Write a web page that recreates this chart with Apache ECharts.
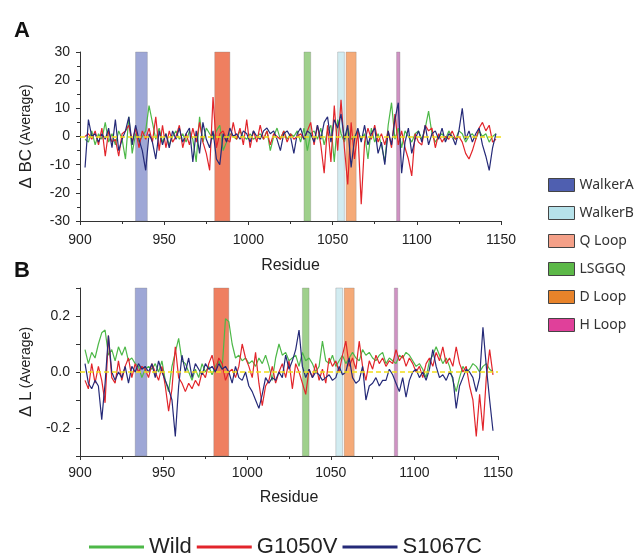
<!DOCTYPE html>
<html>
<head>
<meta charset="utf-8">
<script src="https://cdn.jsdelivr.net/npm/echarts@6/dist/echarts.min.js"></script>
<style>
html,body{margin:0;padding:0;background:#fff;}
#chart{width:638px;height:557px;}
</style>
</head>
<body>
<div id="chart"></div>
<script>
// ---------------- DATA ----------------
// residues sampled every 2 residues from 903 to 1147
const residueStart = 903, residueEnd = 1147, residueStep = 2;

const xTicks = [900, 950, 1000, 1050, 1100, 1150];
const yTicksA = [-30, -20, -10, 0, 10, 20, 30];
const yTicksB = [-0.2, 0.0, 0.2];

const seriesNames = ['Wild', 'G1050V', 'S1067C'];

// Panel A: Δ BC (Average)
const bcWild = [
  -1, -2, 2, -3, 1, -1, 5, -2, 1, -3,
  2, -1, -8, 7, -6, 1, -2, 0, 2, 11,
  5, -1, 3, -2, 1, -3, 0, 2, -1, 1,
  -2, 2, -1, -9, 7, -2, 3, 1, -1, 2,
  4, -5, -2, 1, 0, -1, 2, 0, -1, 1,
  -1, 0, 1, -1, 2, -5, 0, 3, -1, 2,
  -1, 1, 0, 2, -2, 3, -5, 1, 2, -1,
  3, -3, 2, 4, -9, 6, 1, -2, 3, -1,
  0, 2, -1, 1, -8, 3, -2, 1, -3, -9,
  4, 12, -1, 3, -4, 2, 0, -2, 1, 2,
  -1, 3, 9, 1, -2, 0, 1, -1, 2, 0,
  -1, 2, 1, -2, 0, 1, -1, 2, 0, 1,
  -2, 0, 1
];
const bcG1050V = [
  0, 1, -1, 2, -3, 3, -7, 2, -2, -1,
  -7, 1, 2, 4, -2, 3, -4, 2, -1, 3,
  -2, 7, -5, 4, -4, 2, -2, 0, 4, -4,
  1, -3, 3, -2, 5, -2, -6, -12, 14, -4,
  1, 2, -1, -2, 5, -1, 3, -3, 6, -4,
  2, -2, 4, -1, 2, -3, 1, 0, -1, 2,
  -2, 1, -1, 0, 1, -1, 2, 5, -3, 4,
  -3, -13, 4, -9, 11, -5, 13, -4, -17, 5,
  -8, 2, -24, -2, 3, -1, 4, -2, 1, -3,
  2, -4, 8, -3, 2, -4, -8, -14, 1, -2,
  -3, 4, 2, 3, -4, 1, -2, 0, -1, 2,
  -1, 0, -2, -6, -8, -5, -1, 3, 5, 2,
  4, -2, -1
];
const bcS1067C = [
  -11, 6, 0, 1, -2, 1, -1, 3, -4, 6,
  -5, -1, 2, 7, -3, 4, -1, -5, -12, 1,
  -2, -8, 2, -3, 1, -4, 2, -1, 3, -2,
  1, 3, -9, 2, -6, 5, -1, -4, 2, -8,
  -10, 1, -2, 3, 0, 1, -1, 2, 1, -2,
  2, 0, -1, 2, 3, 1, 2, -1, -5, 1,
  2, 0, -6, 1, 3, -1, 2, 1, -2, 4,
  -1, 5, 7, -2, 6, 3, 8, -1, 4, -11,
  -1, 3, -2, 4, -3, 1, 3, -6, -2, -10,
  2, -3, 6, 12, -13, -2, 3, -6, -1, 2,
  -2, 4, -3, 1, 2, -1, 3, -2, 1, 0,
  -3, 2, 10, -1, 2, -2, 1, 3, -3, -7,
  -12, -4, 1
];

// Panel B: Δ L (Average)
const lWild = [
  0.08, 0.03, 0.07, 0.05, 0.10, 0.14, 0.15, 0.06, 0.08, 0.04,
  0.09, 0.06, 0.09, 0.04, 0.05, 0.03, 0.02, -0.02, 0.01, 0.02,
  0.01, 0.03, 0.00, 0.04, -0.03, -0.07, 0.02, 0.07, 0.12, 0.04,
  0.03, 0.00, -0.03, 0.01, -0.02, 0.03, 0.00, 0.02, -0.01, 0.02,
  0.04, 0.01, 0.19, 0.18, 0.10, 0.05, 0.06, 0.04, 0.05, 0.03,
  0.04, 0.02, 0.05, 0.03, 0.06, 0.02, -0.03, 0.05, 0.10, 0.06,
  0.07, 0.04, 0.05, 0.06, 0.02, 0.07, 0.04, 0.05, 0.03, 0.00,
  0.02, 0.11, 0.04, 0.03, 0.06, 0.02, 0.04, 0.06, 0.03, 0.05,
  0.07, 0.05, 0.04, 0.08, 0.06, 0.07, 0.05, 0.04, 0.06, 0.07,
  0.03, 0.05, 0.04, 0.03, 0.06, 0.05, 0.07, 0.06, 0.04, 0.02,
  0.03, 0.01, -0.02, 0.04, 0.06, 0.09, 0.06, 0.03, 0.05, 0.02,
  -0.03, -0.07, -0.02, 0.02, 0.00, 0.01, 0.03, 0.02, 0.00, 0.02,
  0.03, 0.01, 0.00
];
const lG1050V = [
  -0.03, -0.06, 0.03, -0.04, 0.02, -0.03, -0.11, 0.13, -0.02, -0.04,
  0.04, -0.03, 0.02, 0.05, -0.02, 0.03, 0.00, 0.02, 0.01, -0.02,
  0.03, 0.00, -0.03, 0.02, -0.05, -0.14, -0.06, 0.09, -0.02, -0.04,
  -0.07, -0.04, -0.06, -0.03, -0.05, 0.00, -0.02, 0.03, 0.06, 0.00,
  0.05, 0.03, -0.03, 0.00, 0.01, -0.02, 0.02, 0.10, 0.05, 0.02,
  -0.02, 0.07, -0.04, -0.12, -0.05, -0.03, 0.02, -0.04, 0.00, 0.03,
  -0.02, 0.04, -0.06, 0.03, 0.00, -0.04, -0.08, 0.01, -0.02, 0.03,
  -0.03, 0.01, -0.04, 0.05, 0.02, 0.04, 0.00, 0.06, 0.11, 0.02,
  0.05, 0.01, 0.11, 0.02, -0.03, 0.04, 0.01, 0.06, 0.03, 0.05,
  0.02, 0.04, 0.03, 0.08, 0.04, 0.06, 0.02, 0.05, 0.03, 0.00,
  0.02, -0.02, 0.03, 0.05, 0.02, 0.07, 0.04, 0.09, 0.03, 0.05,
  0.02, 0.09, 0.03, 0.00, 0.02, -0.05, -0.10, -0.23, -0.08, -0.21,
  -0.02, 0.08, -0.01
];
const lS1067C = [
  0.03, -0.04, -0.06, -0.03, -0.05, -0.17, -0.04, 0.13, 0.00, -0.03,
  0.00, -0.02, 0.02, -0.04, 0.02, 0.00, 0.03, 0.01, 0.02, 0.00,
  0.03, -0.02, 0.04, 0.00, -0.03, -0.06, -0.10, -0.23, -0.05, 0.06,
  0.00, 0.05, -0.02, 0.03, 0.01, -0.01, 0.03, 0.01, 0.02, 0.00,
  0.03, 0.01, 0.02, 0.00, -0.04, 0.02, -0.02, -0.03, 0.00, -0.05,
  -0.07, -0.10, -0.13, -0.08, -0.02, -0.04, -0.02, -0.03, 0.00, -0.02,
  0.06, 0.01, 0.04, 0.08, 0.15, 0.02, -0.02, 0.01, -0.02, 0.00,
  -0.01, -0.03, -0.02, -0.01, -0.03, -0.02, 0.02, -0.01, 0.00, 0.05,
  -0.02, -0.04, -0.03, 0.02, -0.10, -0.05, -0.04, -0.02, -0.05, -0.03,
  -0.03, 0.01, -0.01, -0.04, -0.07, -0.02, -0.09, -0.03, 0.00, 0.01,
  -0.02, 0.00, -0.03, 0.01, 0.08, 0.02, -0.02, -0.01, -0.03, 0.00,
  -0.02, -0.13, -0.05, -0.02, 0.01, 0.00, -0.02, -0.07, -0.02, 0.16,
  0.02, -0.10, -0.21
];

// Highlighted motif regions (residue ranges)
const bandNames = ['WalkerA', 'WalkerB', 'Q Loop', 'LSGGQ', 'D Loop', 'H Loop'];
const bandStart = [933, 1053, 980, 1033, 1058, 1088];
const bandEnd   = [940, 1057, 989, 1037, 1064, 1090];

// ---------------- STYLE ----------------
const lineColors = ['#4db848', '#e2252b', '#252a78'];
const bandFill   = ['#9ea7d6', '#d2ecf1', '#ef7f60', '#9fd08c', '#f5aa78', '#cf92c3'];
const bandLegend = ['#4f5fb0', '#b6e2ea', '#f4a088', '#5cb848', '#e8832a', '#e0409a'];
const FONT = 'Liberation Sans, Arial, sans-serif';

const residues = [];
for (let r = residueStart; r <= residueEnd; r += residueStep) residues.push(r);
const pairs = arr => residues.map((r, i) => [r, arr[i]]);

const panelData = [
  [bcWild, bcG1050V, bcS1067C],
  [lWild, lG1050V, lS1067C]
];

const chart = echarts.init(document.getElementById('chart'), null, {renderer: 'canvas'});

const grids = [
  {left: 80, top: 52, width: 421, height: 169},
  {left: 80, top: 288, width: 418, height: 168}
];

function xAxisDef(gi, labelMargin, nameGap) {
  return {
    gridIndex: gi, type: 'value', min: xTicks[0], max: xTicks[xTicks.length - 1], interval: 50,
    name: 'Residue', nameLocation: 'middle', nameGap: nameGap,
    nameTextStyle: {fontFamily: FONT, fontSize: 16, color: '#222'},
    axisLine: {show: true, onZero: false, lineStyle: {color: '#333', width: 1}},
    axisTick: {show: true, length: 4, lineStyle: {color: '#333'}},
    minorTick: {show: true, splitNumber: 2, length: 3, lineStyle: {color: '#333'}},
    splitLine: {show: false},
    axisLabel: {fontFamily: FONT, fontSize: 14, color: '#222', margin: labelMargin,
      formatter: v => xTicks.indexOf(v) >= 0 ? String(v) : ''}
  };
}

const yAxes = [
  {
    gridIndex: 0, type: 'value', min: yTicksA[0], max: yTicksA[yTicksA.length - 1], interval: 10,
    name: '{a|Δ BC} {b|(Average)}', nameLocation: 'middle', nameGap: 45, nameRotate: 90,
    nameTextStyle: {fontFamily: FONT, color: '#222', rich: {
      a: {fontFamily: FONT, fontSize: 17, color: '#222'},
      b: {fontFamily: FONT, fontSize: 14, color: '#222'}}},
    axisLine: {show: true, onZero: false, lineStyle: {color: '#333', width: 1}},
    axisTick: {show: true, length: 4, lineStyle: {color: '#333'}},
    minorTick: {show: true, splitNumber: 2, length: 3, lineStyle: {color: '#333'}},
    splitLine: {show: false},
    axisLabel: {fontFamily: FONT, fontSize: 14, color: '#222', margin: 10,
      formatter: v => yTicksA.indexOf(v) >= 0 ? String(v) : ''}
  },
  {
    gridIndex: 1, type: 'value', min: -0.3, max: 0.3, interval: 0.1,
    name: '{a|Δ L} {b|(Average)}', nameLocation: 'middle', nameGap: 45, nameRotate: 90,
    nameTextStyle: {fontFamily: FONT, color: '#222', rich: {
      a: {fontFamily: FONT, fontSize: 17, color: '#222'},
      b: {fontFamily: FONT, fontSize: 14, color: '#222'}}},
    axisLine: {show: true, onZero: false, lineStyle: {color: '#333', width: 1}},
    axisTick: {show: true, length: 4, lineStyle: {color: '#333'}},
    minorTick: {show: false},
    splitLine: {show: false},
    axisLabel: {fontFamily: FONT, fontSize: 14, color: '#222', margin: 10,
      formatter: v => {
        const hit = yTicksB.find(t => Math.abs(t - v) < 1e-6);
        return hit !== undefined ? hit.toFixed(1) : '';
      }}
  }
];

const series = [];
// Bands
for (let gi = 0; gi < 2; gi++) {
  bandNames.forEach((nm, k) => {
    series.push({
      name: nm, type: 'line', xAxisIndex: gi, yAxisIndex: gi, data: [],
      color: bandLegend[k], silent: true, z: 1,
      markArea: {silent: true, z: 1,
        itemStyle: {color: bandFill[k], opacity: 1, borderColor: 'rgba(120,120,120,0.5)', borderWidth: 0.6},
        data: [[{xAxis: bandStart[k]}, {xAxis: bandEnd[k]}]]}
    });
  });
}
// Lines
for (let gi = 0; gi < 2; gi++) {
  seriesNames.forEach((nm, k) => {
    series.push({
      name: nm, type: 'line', xAxisIndex: gi, yAxisIndex: gi,
      data: pairs(panelData[gi][k]), showSymbol: false, symbol: 'none',
      color: lineColors[k], lineStyle: {width: 1.2, color: lineColors[k]}, z: 3 + k, silent: true
    });
  });
  // zero reference line
  series.push({
    name: 'zero' + gi, type: 'line', xAxisIndex: gi, yAxisIndex: gi, data: [], z: 10, silent: true,
    markLine: {silent: true, symbol: ['none', 'none'], label: {show: false}, z: 10,
      lineStyle: {color: '#f2de1a', type: [5, 3], width: 1.5},
      data: [{yAxis: 0}]}
  });
}

const option = {
  backgroundColor: '#fff',
  animation: false,
  title: [
    {text: 'A', left: 9, top: 15, textStyle: {fontFamily: FONT, fontSize: 22, fontWeight: 'bold', color: '#111'}},
    {text: 'B', left: 9, top: 255, textStyle: {fontFamily: FONT, fontSize: 22, fontWeight: 'bold', color: '#111'}}
  ],
  grid: grids,
  xAxis: [xAxisDef(0, 12, 37), xAxisDef(1, 10, 34)],
  yAxis: yAxes,
  legend: [
    {
      orient: 'vertical', left: 543, top: 173, itemWidth: 26, itemHeight: 13, itemGap: 14,
      icon: 'rect', selectedMode: false,
      textStyle: {fontFamily: 'Noto Sans, sans-serif', fontSize: 14, color: '#333', lineHeight: 14},
      data: bandNames.map((nm, k) => ({name: nm, icon: 'rect',
        itemStyle: {color: bandLegend[k], borderColor: '#444', borderWidth: 1}}))
    },
    {
      orient: 'horizontal', left: 84, top: 531, itemWidth: 55, itemHeight: 3, itemGap: 5,
      icon: 'rect', selectedMode: false,
      textStyle: {fontFamily: FONT, fontSize: 22, color: '#222'},
      data: seriesNames.map((nm, k) => ({name: nm, icon: 'rect', itemStyle: {color: lineColors[k]}}))
    }
  ],
  series: series
};
chart.setOption(option);
</script>
</body>
</html>
